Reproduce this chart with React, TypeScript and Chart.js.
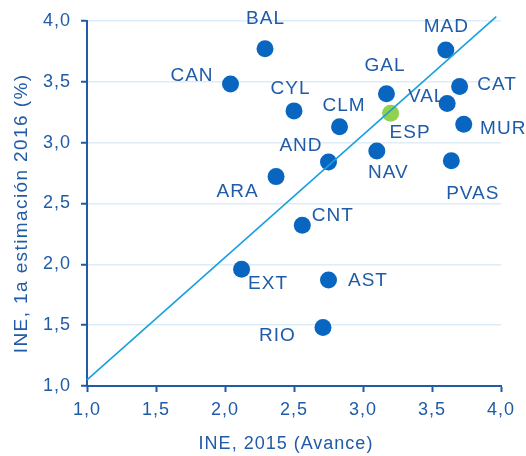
import React, { useEffect, useRef } from "react";
import { Chart, registerables } from "chart.js";

Chart.register(...registerables);

const regions = ["BAL", "CAN", "CYL", "CLM", "GAL", "MAD", "CAT", "VAL", "ESP", "MUR", "AND", "NAV", "PVAS", "ARA", "CNT", "EXT", "AST", "RIO"];
const ine2015 = [2.29, 2.04, 2.50, 2.83, 3.17, 3.60, 3.70, 3.61, 3.20, 3.73, 2.75, 3.10, 3.64, 2.37, 2.56, 2.12, 2.75, 2.71];
const ine2016 = [3.77, 3.48, 3.26, 3.13, 3.40, 3.76, 3.46, 3.32, 3.24, 3.15, 2.84, 2.93, 2.85, 2.72, 2.32, 1.96, 1.87, 1.48];
const trendX = [1.0, 3.966];
const trendY = [1.05, 4.035];
const ticksVals = [1.0, 1.5, 2.0, 2.5, 3.0, 3.5, 4.0];
const xTitle = "INE, 2015 (Avance)";
const yTitle = "INE, 1a estimación 2016 (%)";

// label offsets in pixels (dx, dy) relative to each point
const labelDx = [0, -39, -4, 4, -2, 0, 37, -21, 19, 39, -28, 11, 21, -39, 30, 26, 39, -46];
const labelDy = [-30, -8, -22, -21, -28, -23, -2, -7, 19, 4, -16, 22, 33, 15, -10, 15, 1, 8];

const TEXT = "#1f5ba8";
const AXIS = "#1f5ba8";
const DOT = "#0866c0";
const GREEN = "#92d050";
const GRID = "#deecf8";
const TREND = "#18a0e0";
const FONT = "'Liberation Sans', Arial, sans-serif";

const spacingPlugin = {
  id: "spacing",
  beforeDraw(chart: any) {
    (chart.ctx as any).letterSpacing = "1px";
  },
};

const labelPlugin = {
  id: "pointLabels",
  afterDatasetsDraw(chart: any) {
    const meta = chart.getDatasetMeta(1);
    const ctx = chart.ctx;
    ctx.save();
    ctx.letterSpacing = "1px";
    ctx.font = `19px ${FONT}`;
    ctx.fillStyle = TEXT;
    ctx.textAlign = "center";
    ctx.textBaseline = "middle";
    meta.data.forEach((pt: any, i: number) => {
      ctx.fillText(regions[i], pt.x + labelDx[i] + 0.5, pt.y + labelDy[i]);
    });
    ctx.restore();
  },
  afterDraw(chart: any) {
    const ctx = chart.ctx;
    const area = chart.chartArea;
    ctx.save();
    ctx.fillStyle = TEXT;
    ctx.textAlign = "center";
    ctx.textBaseline = "middle";
    // x title
    ctx.letterSpacing = "1px";
    ctx.font = `18px ${FONT}`;
    ctx.fillText(xTitle, (area.left + area.right) / 2 - 8, chart.height - 12);
    // y title
    ctx.letterSpacing = "1.4px";
    ctx.font = `19px ${FONT}`;
    ctx.translate(21.5, (area.top + area.bottom) / 2 + 10);
    ctx.rotate(-Math.PI / 2);
    ctx.fillText(yTitle, 0, 0);
    ctx.restore();
  },
};

export default function App() {
  const ref = useRef<HTMLCanvasElement>(null);
  useEffect(() => {
    if (!ref.current) return;
    const chart = new Chart(ref.current, {
      type: "scatter",
      data: {
        datasets: [
          {
            type: "line",
            data: trendX.map((x, i) => ({ x, y: trendY[i] })),
            borderColor: TREND,
            borderWidth: 1.6,
            pointRadius: 0,
            fill: false,
            clip: false as any,
            order: 0,
          } as any,
          {
            data: ine2015.map((x, i) => ({ x, y: ine2016[i] })),
            pointRadius: 8.5,
            pointHoverRadius: 8.5,
            pointBorderWidth: 0,
            pointBackgroundColor: regions.map((r) => (r === "ESP" ? GREEN : DOT)),
            order: 1,
          },
        ],
      },
      options: {
        animation: false,
        responsive: false,
        maintainAspectRatio: false,
        layout: { padding: { top: 19, right: 25, left: 0, bottom: 0 } },
        plugins: { legend: { display: false }, tooltip: { enabled: false } },
        scales: {
          x: {
            type: "linear",
            min: 1,
            max: 4,
            afterFit: (s: any) => { s.height = 70; },
            afterBuildTicks: (s: any) => { s.ticks = ticksVals.map((v) => ({ value: v })); },
            border: { color: AXIS, width: 2 },
            grid: { drawOnChartArea: false, drawTicks: true, tickLength: 6, tickColor: AXIS, tickWidth: 2 },
            ticks: {
              color: TEXT,
              font: { family: FONT, size: 18 },
              padding: 7,
              callback: (v: any) => Number(v).toFixed(1).replace(".", ","),
            },
            title: { display: false, text: xTitle },
          },
          y: {
            type: "linear",
            min: 1,
            max: 4,
            afterFit: (s: any) => { s.width = 87; },
            afterBuildTicks: (s: any) => { s.ticks = ticksVals.map((v) => ({ value: v })); },
            border: { color: AXIS, width: 2 },
            grid: { color: GRID, lineWidth: 1.5, drawTicks: true, tickLength: 6, tickColor: AXIS, tickWidth: 2 },
            ticks: {
              color: TEXT,
              font: { family: FONT, size: 18 },
              padding: 10,
              callback: (v: any) => Number(v).toFixed(1).replace(".", ","),
            },
            title: { display: false, text: yTitle },
          },
        },
      },
      plugins: [spacingPlugin, labelPlugin],
    });
    return () => chart.destroy();
  }, []);
  return (
    <div style={{ position: "fixed", left: 0, top: 0, width: 526, height: 456, background: "#fff" }}>
      <canvas ref={ref} width={526} height={456} style={{ width: 526, height: 456, display: "block" }} />
    </div>
  );
}
